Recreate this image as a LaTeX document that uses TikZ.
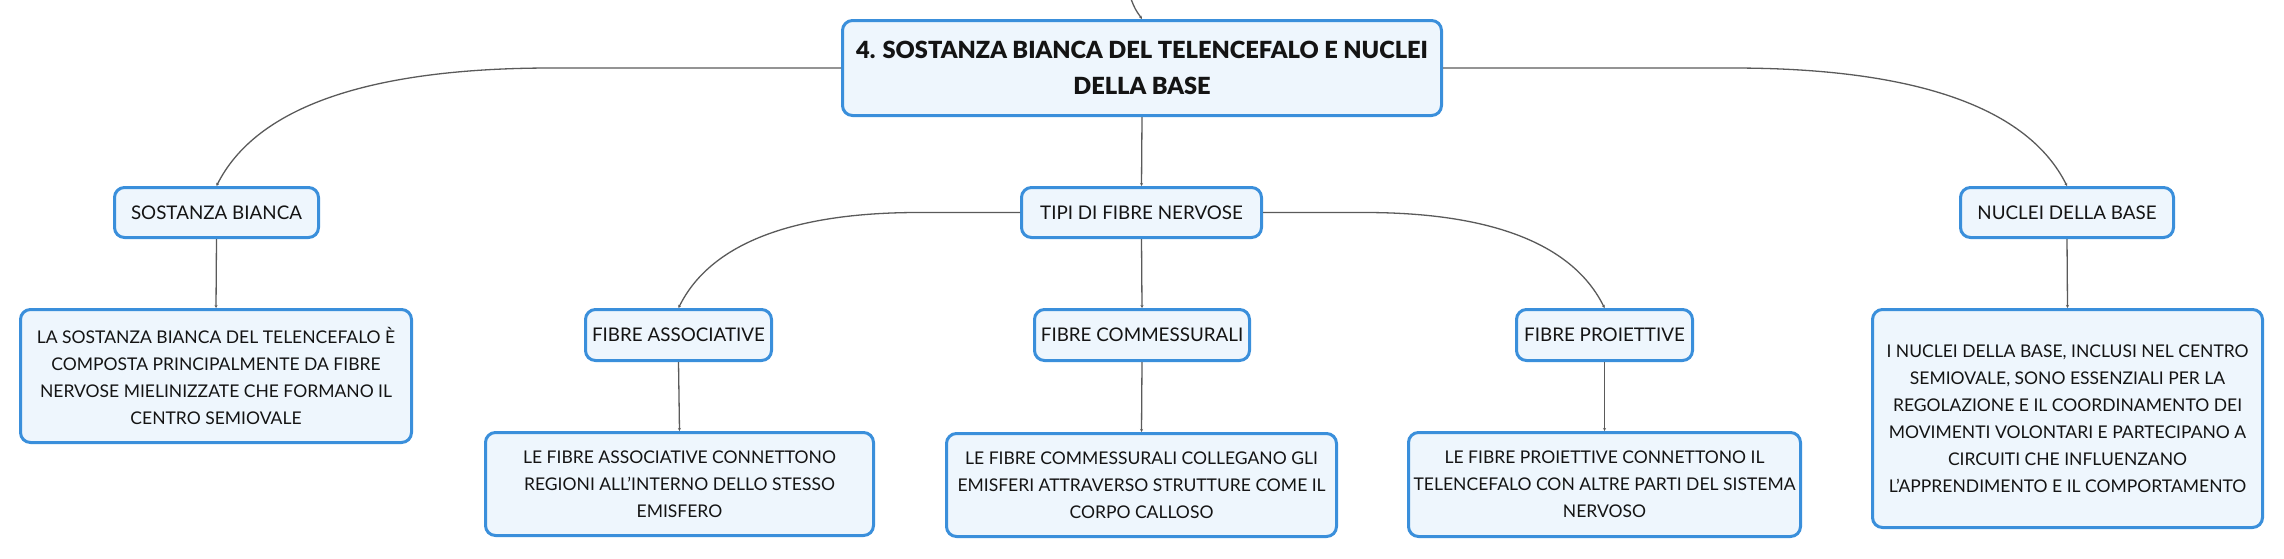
\documentclass[tikz,border=0pt]{standalone}
\usepackage{fontspec}
\setmainfont{Lato}
\IfFontExistsTF{Lato Black}{\newfontfamily\rootfont{Lato Black}}{\newfontfamily\rootfont[FakeBold=1.5]{Lato Bold}}
\usetikzlibrary{calc,arrows.meta}
\definecolor{boxblue}{HTML}{3A8FDB}
\definecolor{boxfill}{HTML}{EEF6FD}
\definecolor{linecol}{HTML}{5A5A5A}
\definecolor{textcol}{HTML}{141414}
\tikzset{
  box/.style={draw=boxblue, line width=3pt, fill=boxfill, rounded corners=10pt,
    inner sep=0pt, align=center, text=textcol},
  rootbox/.style={box, font=\fontsize{23.6}{36}\selectfont\rootfont},
  topicbox/.style={box, font=\fontsize{18.8}{27}\selectfont},
  descbox/.style={box, font=\fontsize{17.5}{27}\selectfont},
  conn/.style={draw=linecol, line width=1.3pt, -{Stealth[length=3pt,width=3pt]}},
}
\begin{document}
\begin{tikzpicture}[x=1pt,y=-1pt]
\useasboundingbox (0,0) rectangle (2284,558);
% nodes
\node[rootbox, minimum width=599, minimum height=95] (root) at (1142,68)
  {4. SOSTANZA BIANCA DEL TELENCEFALO E NUCLEI\\DELLA BASE};
\node[topicbox, minimum width=204, minimum height=50] (sb) at (216.5,212.5) {SOSTANZA BIANCA};
\node[topicbox, minimum width=240, minimum height=50] (tipi) at (1141.5,212.5) {TIPI DI FIBRE NERVOSE};
\node[topicbox, minimum width=213, minimum height=50] (nuc) at (2067,212.5) {NUCLEI DELLA BASE};
\node[descbox, minimum width=391, minimum height=133] (sbd) at (216,376)
  {LA SOSTANZA BIANCA DEL TELENCEFALO È\\COMPOSTA PRINCIPALMENTE DA FIBRE\\NERVOSE MIELINIZZATE CHE FORMANO IL\\CENTRO SEMIOVALE};
\node[topicbox, minimum width=186, minimum height=51] (fa) at (678.5,335) {FIBRE ASSOCIATIVE};
\node[topicbox, minimum width=215, minimum height=51] (fc) at (1142,335) {FIBRE COMMESSURALI};
\node[topicbox, minimum width=176, minimum height=51] (fp) at (1604.5,335) {FIBRE PROIETTIVE};
\node[descbox, minimum width=388, minimum height=103] (fad) at (679.5,484)
  {LE FIBRE ASSOCIATIVE CONNETTONO\\REGIONI ALL'INTERNO DELLO STESSO\\EMISFERO};
\node[descbox, minimum width=390, minimum height=103] (fcd) at (1141.5,485)
  {LE FIBRE COMMESSURALI COLLEGANO GLI\\EMISFERI ATTRAVERSO STRUTTURE COME IL\\CORPO CALLOSO};
\node[descbox, minimum width=392, minimum height=104] (fpd) at (1604.5,484.5)
  {LE FIBRE PROIETTIVE CONNETTONO IL\\TELENCEFALO CON ALTRE PARTI DEL SISTEMA\\NERVOSO};
\node[descbox, minimum width=390, minimum height=218] (nucd) at (2067.5,418.5)
  {I NUCLEI DELLA BASE, INCLUSI NEL CENTRO\\SEMIOVALE, SONO ESSENZIALI PER LA\\REGOLAZIONE E IL COORDINAMENTO DEI\\MOVIMENTI VOLONTARI E PARTECIPANO A\\CIRCUITI CHE INFLUENZANO\\L'APPRENDIMENTO E IL COMPORTAMENTO};
% connector from the parent above the picture
\coordinate (up) at (1131,-1);
\draw[conn] (up) .. controls (1135,9) .. (root.north);
% vertical connectors
\draw[conn] (root.south) -- (tipi.north);
\draw[conn] (sb.south) -- (sbd.north);
\draw[conn] (fa.south) -- (fad.north);
\draw[conn] (fc.south) -- (fcd.north);
\draw[conn] (fp.south) -- (fpd.north);
\draw[conn] (nuc.south) -- (nucd.north);
\draw[conn] (tipi.south) -- (fc.north);
% curved connectors, level 1
\draw[conn] (root.west) -- ($(sb.north |- root.west)+(335,0)$)
  .. controls ($(sb.north |- root.west)+(150,0)$) and ($(sb.north)+(39,-78)$) .. (sb.north);
\draw[conn] (root.east) -- ($(nuc.north |- root.east)+(-335,0)$)
  .. controls ($(nuc.north |- root.east)+(-150,0)$) and ($(nuc.north)+(-39,-78)$) .. (nuc.north);
% curved connectors, level 2
\draw[conn] (tipi.west) -- ($(fa.north |- tipi.west)+(240,0)$)
  .. controls ($(fa.north |- tipi.west)+(111,0)$) and ($(fa.north)+(31,-63)$) .. (fa.north);
\draw[conn] (tipi.east) -- ($(fp.north |- tipi.east)+(-240,0)$)
  .. controls ($(fp.north |- tipi.east)+(-111,0)$) and ($(fp.north)+(-31,-63)$) .. (fp.north);
\end{tikzpicture}
\end{document}
